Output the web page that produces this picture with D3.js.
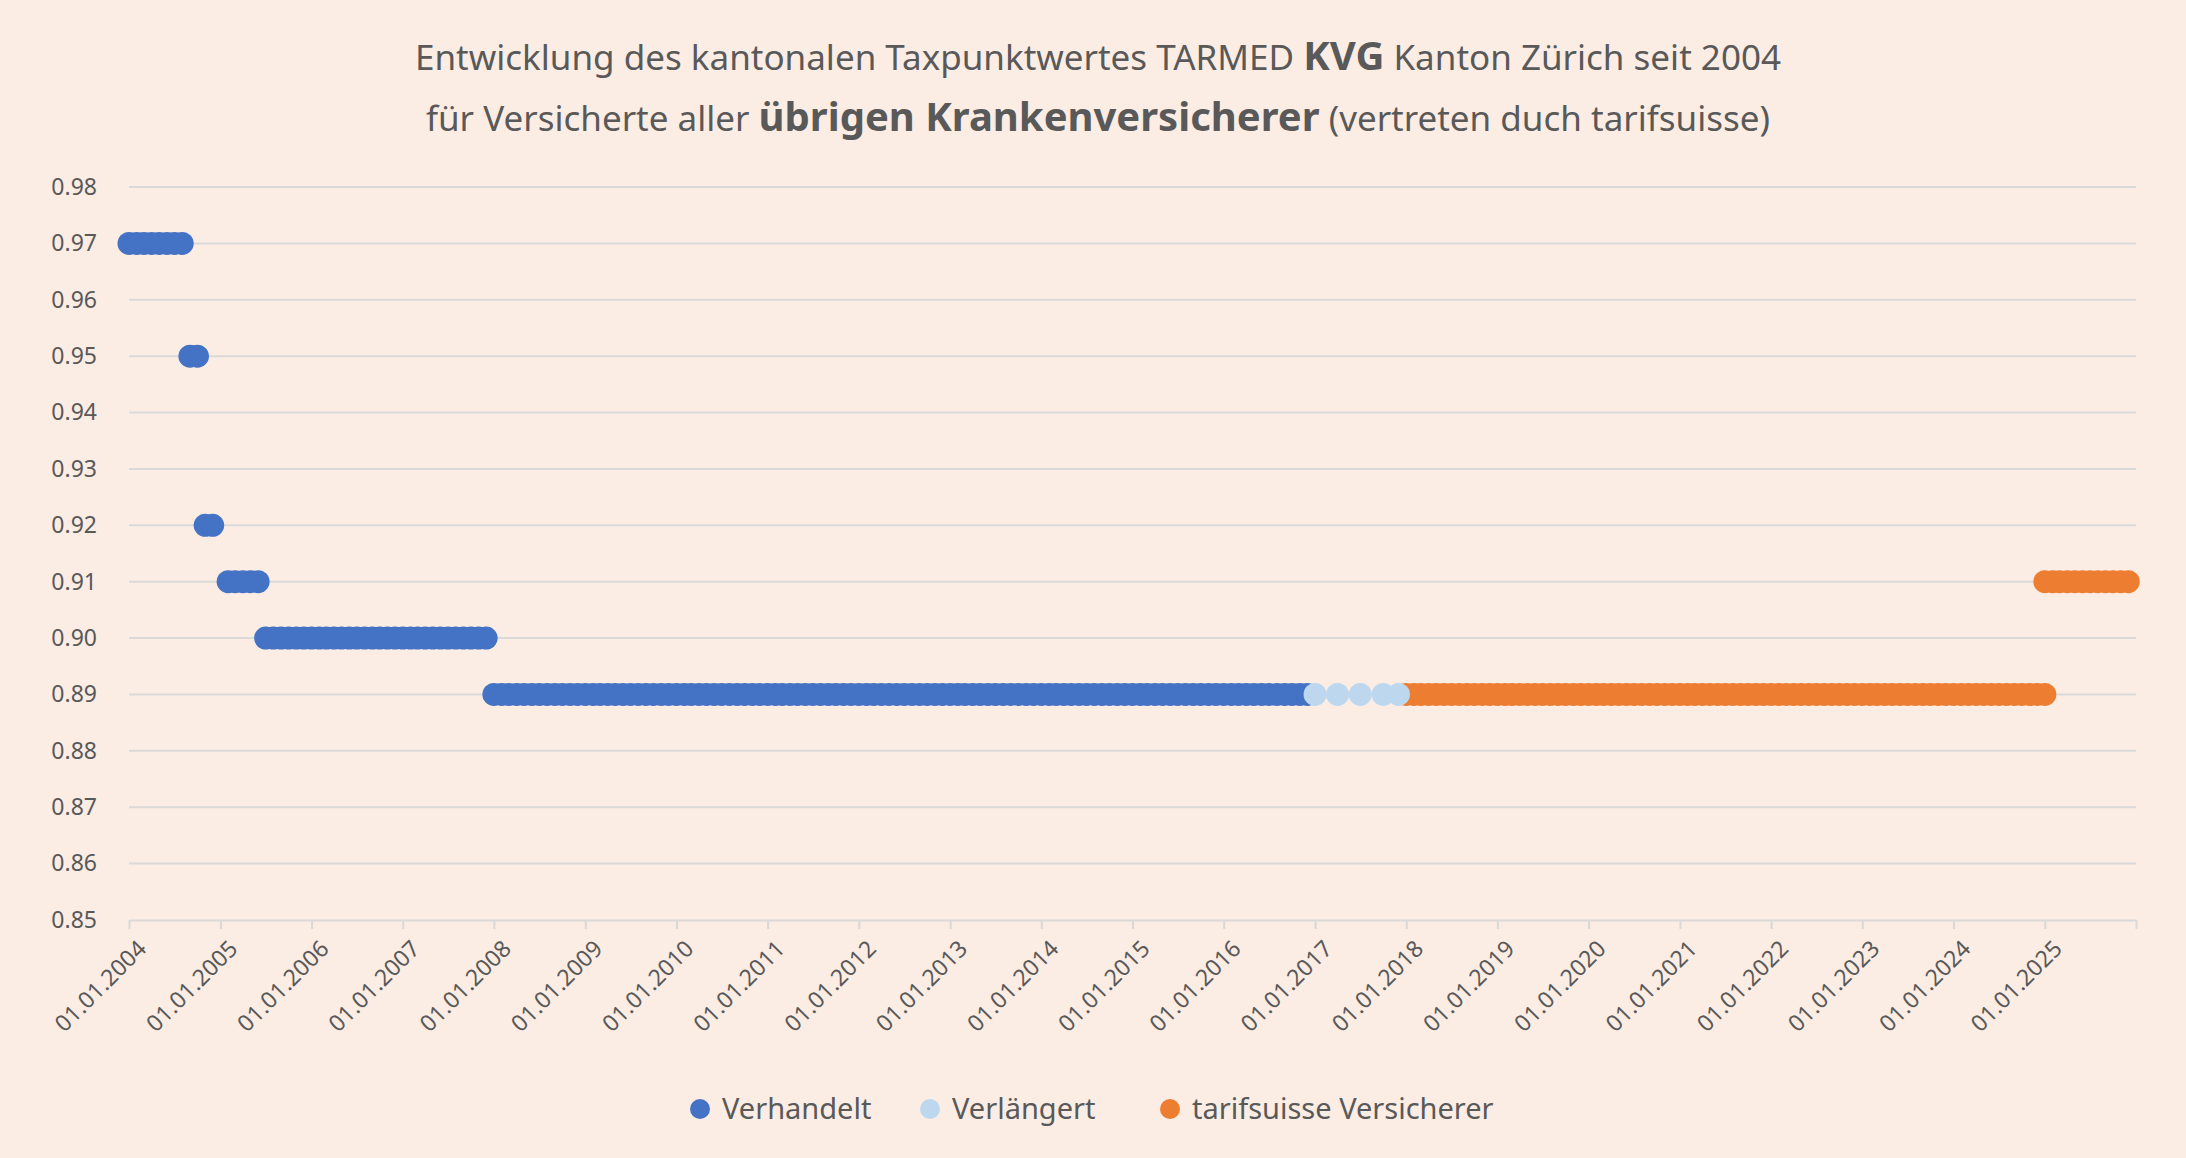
<!DOCTYPE html>
<html>
<head>
<meta charset="utf-8">
<script src="https://cdn.jsdelivr.net/npm/d3@7"></script>
<style>
  body { margin: 0; background: #fbede4; }
  text { font-family: "Noto Sans", "Open Sans", sans-serif; fill: #595959; }
</style>
</head>
<body>
<svg id="chart" width="2186" height="1158"></svg>
<script>
// periods: [start month, end month, value, series]
var periods = [
  ["2004-01", "2004-08", 0.97, "Verhandelt"],
  ["2004-09", "2004-10", 0.95, "Verhandelt"],
  ["2004-11", "2004-12", 0.92, "Verhandelt"],
  ["2005-02", "2005-06", 0.91, "Verhandelt"],
  ["2005-07", "2007-12", 0.90, "Verhandelt"],
  ["2008-01", "2016-12", 0.89, "Verhandelt"],
  ["2018-01", "2025-01", 0.89, "tarifsuisse Versicherer"],
  ["2025-01", "2025-12", 0.91, "tarifsuisse Versicherer"]
];
// extended tariff, sparse points
var extendedDates = ["2017-01", "2017-04", "2017-07", "2017-10", "2017-12"];
var extendedValue = 0.89;

var seriesNames = ["Verhandelt", "Verlängert", "tarifsuisse Versicherer"];
var seriesColors = ["#4472c4", "#bdd7ee", "#ed7d31"];
var yTicks = [0.85, 0.86, 0.87, 0.88, 0.89, 0.90, 0.91, 0.92, 0.93, 0.94, 0.95, 0.96, 0.97, 0.98];
var xTickYears = d3.range(2004, 2026);

var parseMonth = d3.timeParse("%Y-%m");
var color = d3.scaleOrdinal().domain(seriesNames).range(seriesColors);

var points = [];
periods.forEach(function(p) {
  var start = parseMonth(p[0]), end = parseMonth(p[1]);
  d3.timeMonth.range(start, d3.timeMonth.offset(end, 1)).forEach(function(d) {
    points.push({ date: d, value: p[2], series: p[3] });
  });
});
extendedDates.forEach(function(s) {
  points.push({ date: parseMonth(s), value: extendedValue, series: "Verlängert" });
});

var svg = d3.select("#chart");
var margin = { left: 129, right: 50, top: 187, bottom: 238 };
var W = 2186, H = 1158;

var x = d3.scaleTime()
  .domain([new Date(2004, 0, 1), new Date(2026, 0, 1)])
  .range([margin.left, W - margin.right]);
var y = d3.scaleLinear()
  .domain([0.85, 0.98])
  .range([H - margin.bottom, margin.top]);

// title
var title = svg.append("text").attr("text-anchor", "middle").style("font-size", "35px");
title.append("tspan").attr("x", 1098).attr("y", 70).text("Entwicklung des kantonalen Taxpunktwertes TARMED ");
title.append("tspan").style("font-weight", "bold").style("font-size", "40px").text("KVG");
title.append("tspan").text(" Kanton Zürich seit 2004");
var title2 = svg.append("text").attr("text-anchor", "middle").style("font-size", "35px");
title2.append("tspan").attr("x", 1098).attr("y", 131).text("für Versicherte aller ");
title2.append("tspan").style("font-weight", "bold").style("font-size", "40px").text("übrigen Krankenversicherer");
title2.append("tspan").text(" (vertreten duch tarifsuisse)");

// gridlines
svg.append("g").selectAll("line").data(yTicks.slice(1)).join("line")
  .attr("x1", margin.left).attr("x2", W - margin.right)
  .attr("y1", function(d) { return y(d); }).attr("y2", function(d) { return y(d); })
  .attr("stroke", "#d9d9d9").attr("stroke-width", 2);

// y axis
var yAxis = svg.append("g")
  .attr("transform", "translate(" + margin.left + ",0)")
  .call(d3.axisLeft(y).tickValues(yTicks).tickFormat(d3.format(".2f")).tickSize(0).tickPadding(32));
yAxis.select(".domain").remove();
yAxis.selectAll("text").style("font-size", "23px");

// x axis
var xAxis = svg.append("g")
  .attr("transform", "translate(0," + y(0.85) + ")")
  .call(d3.axisBottom(x)
    .tickValues(xTickYears.map(function(yr) { return new Date(yr, 0, 1); }).concat([new Date(2026, 0, 1)]))
    .tickFormat(function(d) { return d.getFullYear() < 2026 ? d3.timeFormat("%d.%m.%Y")(d) : ""; })
    .tickSize(9).tickSizeOuter(0));
xAxis.select(".domain").attr("stroke", "#d9d9d9").attr("stroke-width", 2);
xAxis.selectAll(".tick line").attr("stroke", "#d9d9d9").attr("stroke-width", 2);
xAxis.selectAll("text")
  .style("font-size", "23px")
  .attr("text-anchor", "end")
  .attr("dx", "0").attr("dy", "0.35em")
  .attr("transform", "translate(4,16) rotate(-45)");

// dots
svg.append("g").selectAll("circle").data(points).join("circle")
  .attr("cx", function(d) { return x(d.date); })
  .attr("cy", function(d) { return y(d.value); })
  .attr("r", 11.5)
  .attr("fill", function(d) { return color(d.series); });

// legend
var legendX = [700, 930, 1170];
var legend = svg.append("g").selectAll("g").data(seriesNames).join("g")
  .attr("transform", function(d, i) { return "translate(" + legendX[i] + ",1109)"; });
legend.append("circle").attr("r", 10).attr("fill", function(d) { return color(d); });
legend.append("text").attr("x", 22).attr("dy", "0.35em").style("font-size", "29px").text(function(d) { return d; });
</script>
</body>
</html>
